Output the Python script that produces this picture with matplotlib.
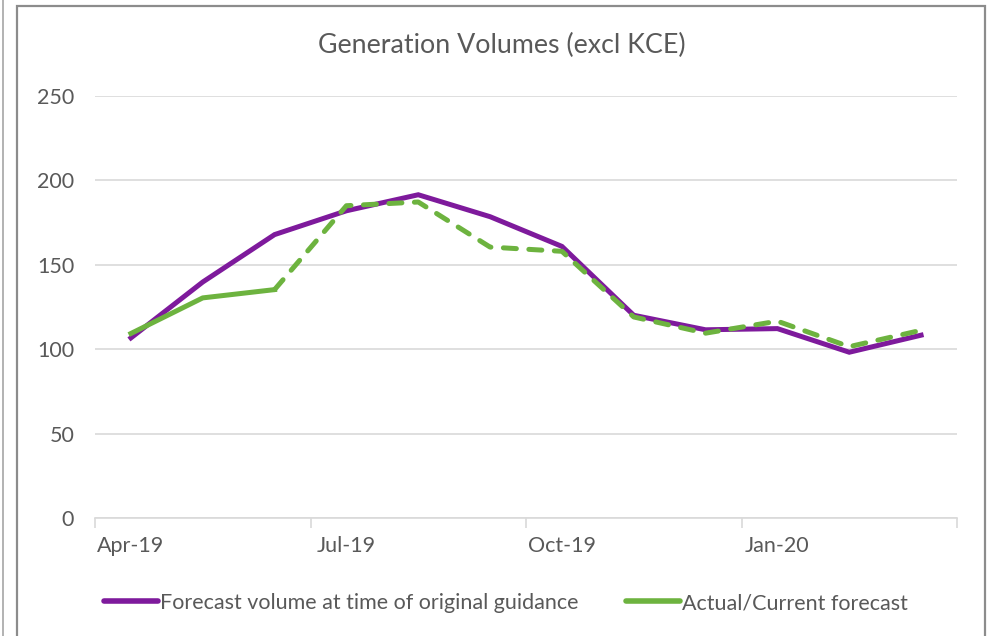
import matplotlib
matplotlib.use('Agg')
import matplotlib.pyplot as plt
from matplotlib.patches import Rectangle
from matplotlib.lines import Line2D

# ---- data ----
months = ['Apr-19', 'May-19', 'Jun-19', 'Jul-19', 'Aug-19', 'Sep-19',
          'Oct-19', 'Nov-19', 'Dec-19', 'Jan-20', 'Feb-20', 'Mar-20']
original = [106.7, 139.8, 167.9, 182.0, 191.5, 178.5, 160.9, 120.1, 111.5, 112.2, 98.2, 108.3]
current = [109.3, 130.4, 135.3, 185.0, 187.2, 160.5, 158.0, 119.1, 109.5, 116.6, 101.5, 111.2]
n_actual = 3  # Apr-Jun are actuals (solid), rest dashed forecast
yticks = [0, 50, 100, 150, 200, 250]
label_every = 3

PURPLE = '#7E1A9C'
GREEN = '#6DB33F'
GRID = '#D9D9D9'
TXT = '#595959'

plt.rcParams['font.family'] = ['Lato', 'DejaVu Sans']

W, H = 993, 636
fig = plt.figure(figsize=(W / 100, H / 100), dpi=100)

# chart frame
fig.add_artist(Rectangle((17 / W, -0.01), (985 - 17) / W, (H - 6) / H + 0.01,
                         transform=fig.transFigure, fill=False,
                         edgecolor='#8C8C8C', lw=1.6))
fig.add_artist(Line2D([3 / W, 3 / W], [0, 1], transform=fig.transFigure,
                      color='#A6A6A6', lw=1.2))

ax = fig.add_axes([95 / W, (H - 518) / H, (957 - 95) / W, (518 - 96) / H])
x = list(range(len(months)))

ax.plot(x, original, color=PURPLE, lw=3.6, solid_joinstyle='miter', zorder=3)
ax.plot(x[:n_actual], current[:n_actual], color=GREEN, lw=3.6, zorder=4)
ax.plot(x[n_actual - 1:], current[n_actual - 1:], color=GREEN, lw=3.6,
        linestyle=(0, (2.6, 2.5)), dash_capstyle='round', zorder=4)

ax.set_xlim(-0.5, len(months) - 0.5)
ax.set_ylim(0, 250)
ax.set_yticks(yticks)
ax.set_yticklabels([str(v) for v in yticks])
ax.grid(axis='y', color=GRID, lw=1.2)
ax.set_axisbelow(True)

# x ticks at category boundaries, labels on categories
ax.set_xticks([i - 0.5 for i in range(0, len(months) + 1, label_every)])
ax.set_xticklabels([])
ax.set_xticks(x[::label_every], minor=True)
ax.set_xticklabels(months[::label_every], minor=True)
ax.tick_params(axis='x', which='major', length=7, color=GRID, width=1.2)
ax.tick_params(axis='x', which='minor', length=0, pad=13, labelsize=15.5, labelcolor=TXT)
ax.tick_params(axis='y', length=0, pad=15, labelsize=15.5, labelcolor=TXT)

for s in ['top', 'right', 'left']:
    ax.spines[s].set_visible(False)
ax.spines['bottom'].set_color(GRID)
ax.spines['bottom'].set_linewidth(1.2)

fig.text(502 / W, 1 - 45 / H, 'Generation Volumes (excl KCE)', ha='center',
         va='center', fontsize=19.3, color=TXT)

handles = [Line2D([], [], color=PURPLE, lw=4, solid_capstyle='round'),
           Line2D([], [], color=GREEN, lw=4, solid_capstyle='round')]
fig.legend(handles, ['Forecast volume at time of original guidance', 'Actual/Current forecast'],
           loc='center', bbox_to_anchor=(506 / W, 1 - 603 / H), ncol=2, frameon=False,
           fontsize=15.5, labelcolor=TXT, handlelength=2.5, handletextpad=0.1,
           columnspacing=2.2)

fig.savefig('out.png', dpi=100)
